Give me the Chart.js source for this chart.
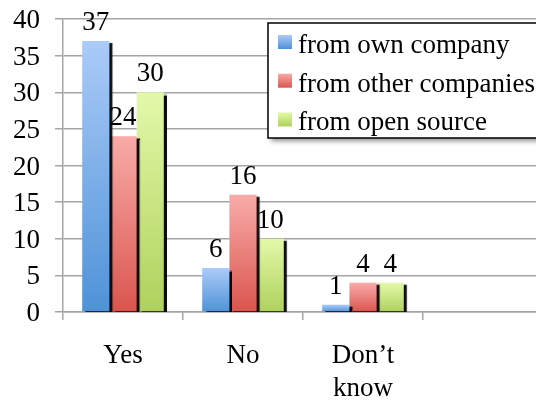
<!DOCTYPE html>
<html>
<head>
<meta charset="utf-8">
<script src="https://cdn.jsdelivr.net/npm/chart.js@4/dist/chart.umd.min.js"></script>
<style>
  html, body { margin: 0; padding: 0; background: #fff; overflow: hidden; }
  #wrap { width: 545px; height: 401px; position: relative; }
</style>
</head>
<body>
<div id="wrap"><canvas id="chart"></canvas></div>
<script>
// data
const categories = ['Yes', 'No', ['Don\u2019t', 'know'], ''];
const seriesNames = ['from own company', 'from other companies', 'from open source'];
const ownCompany = [37, 6, 1, null];
const otherCompanies = [24, 16, 4, null];
const openSource = [30, 10, 4, null];
const yTicks = [0, 5, 10, 15, 20, 25, 30, 35, 40];

// gradient ends per series (top, bottom)
const topColors = ['#abcbf8', '#f9aba8', '#e3f9aa'];
const bottomColors = ['#4f92d8', '#da554e', '#afd15c'];

const FONT = { family: '"Liberation Serif", "Times New Roman", serif', size: 27 };
const GRID = '#a5a5a5';

function barGradient(context, i) {
    const chart = context.chart;
    if (!chart.chartArea || context.type !== 'data' || context.raw == null) return bottomColors[i];
    const y = chart.scales.y.getPixelForValue(context.raw);
    const base = chart.scales.y.getPixelForValue(0);
    const g = chart.ctx.createLinearGradient(0, y, 0, base);
    g.addColorStop(0, topColors[i]);
    g.addColorStop(1, bottomColors[i]);
    return g;
}

function makeDataset(label, data, i) {
    return {
        label: label,
        data: data,
        backgroundColor: ctx => barGradient(ctx, i),
        borderWidth: 0,
        categoryPercentage: 0.68,
        barPercentage: 1,
        clip: { left: false, right: false, top: false, bottom: 0 }
    };
}

// bar shadows + value labels + boxed legend
const extras = {
    id: 'extras',
    beforeDatasetsDraw(chart) {
        const ctx = chart.ctx;
        ctx.save();
        ctx.shadowColor = 'rgba(0,0,0,0.95)';
        ctx.shadowOffsetX = 3;
        ctx.shadowOffsetY = 2;
        ctx.shadowBlur = 1;
    },
    afterDatasetsDraw(chart) {
        const ctx = chart.ctx;
        ctx.restore();
        ctx.save();
        ctx.font = FONT.size + 'px ' + FONT.family;
        ctx.fillStyle = '#000';
        ctx.textAlign = 'center';
        ctx.textBaseline = 'alphabetic';
        chart.data.datasets.forEach((ds, i) => {
            chart.getDatasetMeta(i).data.forEach((bar, j) => {
                if (ds.data[j] == null) return;
                ctx.fillText(String(ds.data[j]), bar.x, bar.y - 11);
            });
        });
        ctx.restore();
    },
    afterDraw(chart) {
        const ctx = chart.ctx;
        const left = 268, top = 23, right = 560, bottom = 138;
        ctx.save();
        ctx.shadowColor = 'rgba(0,0,0,0.45)';
        ctx.shadowBlur = 5;
        ctx.shadowOffsetX = 3;
        ctx.shadowOffsetY = 3;
        ctx.fillStyle = '#fff';
        ctx.fillRect(left, top, right - left, bottom - top);
        ctx.restore();
        ctx.save();
        ctx.strokeStyle = '#000';
        ctx.lineWidth = 1.5;
        ctx.strokeRect(left, top, right - left, bottom - top);
        ctx.font = FONT.size + 'px ' + FONT.family;
        ctx.fillStyle = '#000';
        ctx.textBaseline = 'alphabetic';
        seriesNames.forEach((name, i) => {
            const cy = 42 + i * 38.7;
            const g = ctx.createLinearGradient(0, cy - 7, 0, cy + 7);
            g.addColorStop(0, topColors[i]);
            g.addColorStop(1, bottomColors[i]);
            ctx.fillStyle = g;
            ctx.fillRect(278, cy - 7, 14, 14);
            ctx.fillStyle = '#000';
            ctx.fillText(name, 298, cy + 11);
        });
        ctx.restore();
    }
};

new Chart(document.getElementById('chart'), {
    type: 'bar',
    data: {
        labels: categories,
        datasets: [
            makeDataset(seriesNames[0], ownCompany, 0),
            makeDataset(seriesNames[1], otherCompanies, 1),
            makeDataset(seriesNames[2], openSource, 2)
        ]
    },
    options: {
        responsive: true,
        maintainAspectRatio: false,
        animation: false,
        layout: { padding: { top: 19, right: 2, left: 0, bottom: 0 } },
        plugins: {
            legend: { display: false },
            tooltip: { enabled: false }
        },
        scales: {
            x: {
                offset: true,
                grid: { display: true, drawOnChartArea: false, offset: true, color: GRID, lineWidth: 1.5, tickLength: 8 },
                border: { color: GRID, width: 1.5 },
                ticks: { color: '#000', font: { ...FONT, lineHeight: 1.2 }, padding: 20, maxRotation: 0, autoSkip: false },
                afterFit(scale) {
                    scale.height = 89;
                    scale.paddingLeft = 0;
                    scale.paddingRight = 0;
                }
            },
            y: {
                min: 0,
                max: 40,
                afterBuildTicks(scale) { scale.ticks = yTicks.map(v => ({ value: v })); },
                grid: { color: GRID, lineWidth: 1.5, tickLength: 8 },
                border: { color: GRID, width: 1.5 },
                ticks: { color: '#000', font: FONT, padding: 15, labelOffset: 2 },
                afterFit(scale) {
                    scale.width = 63;
                    scale.paddingTop = 0;
                    scale.paddingBottom = 0;
                }
            }
        }
    },
    plugins: [extras]
});
</script>
</body>
</html>
